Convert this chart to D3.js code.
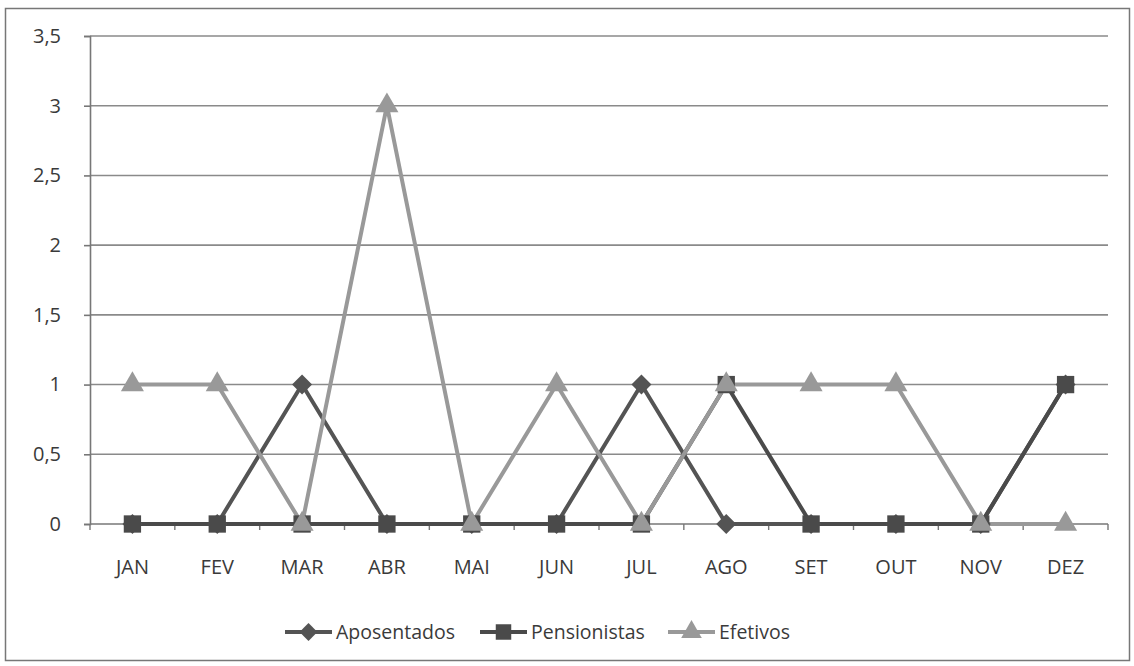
<!DOCTYPE html>
<html><head><meta charset="utf-8">
<script src="https://cdn.jsdelivr.net/npm/d3@7"></script>
<style>body{margin:0;background:#fff;} svg{display:block;font-family:"Open Sans","Noto Sans",sans-serif;}</style>
</head><body><svg id="c" width="1134" height="666"></svg>
<script>
const months = ["JAN","FEV","MAR","ABR","MAI","JUN","JUL","AGO","SET","OUT","NOV","DEZ"];
const aposentados = [0,0,1,0,0,0,1,0,0,0,0,1];
const pensionistas = [0,0,0,0,0,0,0,1,0,0,0,1];
const efetivos = [1,1,0,3,0,1,0,1,1,1,0,0];
const yTicks = [0,0.5,1,1.5,2,2.5,3,3.5];
const seriesNames = ["Aposentados","Pensionistas","Efetivos"];

const diamond = {draw(ctx,size){const r=Math.sqrt(size/2);ctx.moveTo(0,-r);ctx.lineTo(r,0);ctx.lineTo(0,r);ctx.lineTo(-r,0);ctx.closePath();}};
const series = [
  {name:seriesNames[0], values:aposentados, color:"#545454", shape:diamond, size:200},
  {name:seriesNames[1], values:pensionistas, color:"#4a4a4a", shape:d3.symbolSquare, size:300},
  {name:seriesNames[2], values:efetivos, color:"#999999", shape:d3.symbolTriangle, size:230}
];

const svg = d3.select("#c");
svg.append("rect").attr("x",5.5).attr("y",8.5).attr("width",1124).attr("height",652)
  .attr("fill","#fff").attr("stroke","#777").attr("stroke-width",1.5);

const L=90, R=1108, T=36, B=524;
const x = d3.scaleBand().domain(months).range([L,R]);
const y = d3.scaleLinear().domain([0,3.5]).range([B,T]);

// gridlines
svg.append("g").selectAll("line").data(yTicks.filter(d=>d>0)).join("line")
  .attr("x1",L).attr("x2",R).attr("y1",d=>y(d)).attr("y2",d=>y(d))
  .attr("stroke","#8a8a8a").attr("stroke-width",1.6);

// y axis
const yAxis = d3.axisLeft(y).tickValues(yTicks).tickSize(6).tickPadding(23)
  .tickFormat(d=>String(d).replace(".",","));
const gy = svg.append("g").attr("transform",`translate(${L},0)`).call(yAxis);
gy.attr("font-size",null).attr("font-family",null);
gy.select(".domain").attr("stroke","#777").attr("stroke-width",1.6);
gy.selectAll(".tick line").attr("stroke","#777").attr("stroke-width",1.6);
gy.selectAll("text").style("font-size","20px").attr("fill","#3a3a3a");

// x axis
const gx = svg.append("g").attr("transform",`translate(0,${B})`);
gx.append("line").attr("x1",L).attr("x2",R).attr("stroke","#777").attr("stroke-width",1.6);
const edges = months.map(m=>x(m)).concat([R]);
gx.selectAll(".tk").data(edges).join("line").attr("class","tk")
  .attr("x1",d=>d).attr("x2",d=>d).attr("y1",0).attr("y2",6)
  .attr("stroke","#777").attr("stroke-width",1.4);
gx.selectAll("text").data(months).join("text")
  .attr("x",d=>x(d)+x.bandwidth()/2).attr("y",50)
  .attr("text-anchor","middle").style("font-size","20px").attr("fill","#3a3a3a").text(d=>d);

// lines & markers
const line = d3.line().x((d,i)=>x(months[i])+x.bandwidth()/2).y(d=>y(d));
series.forEach(s=>{
  svg.append("path").datum(s.values).attr("d",line).attr("fill","none")
    .attr("stroke",s.color).attr("stroke-width",4).attr("stroke-linejoin","miter");
});
series.forEach(s=>{
  svg.append("g").selectAll("path").data(s.values).join("path")
    .attr("d",d3.symbol().type(s.shape).size(s.size))
    .attr("transform",(d,i)=>`translate(${x(months[i])+x.bandwidth()/2},${y(d)})`)
    .attr("fill",s.color);
});

// legend
const legX = [285,480,668];
const lg = svg.append("g").attr("transform","translate(0,632)");
series.forEach((s,i)=>{
  const g = lg.append("g").attr("transform",`translate(${legX[i]},0)`);
  g.append("line").attr("x1",0).attr("x2",47).attr("stroke",s.color).attr("stroke-width",4);
  g.append("path").attr("d",d3.symbol().type(s.shape).size(s.size*0.8)).attr("transform","translate(23.5,0)").attr("fill",s.color);
  g.append("text").attr("x",51).attr("y",7).style("font-size","19.5px").attr("fill","#3a3a3a").text(s.name);
});
</script></body></html>
